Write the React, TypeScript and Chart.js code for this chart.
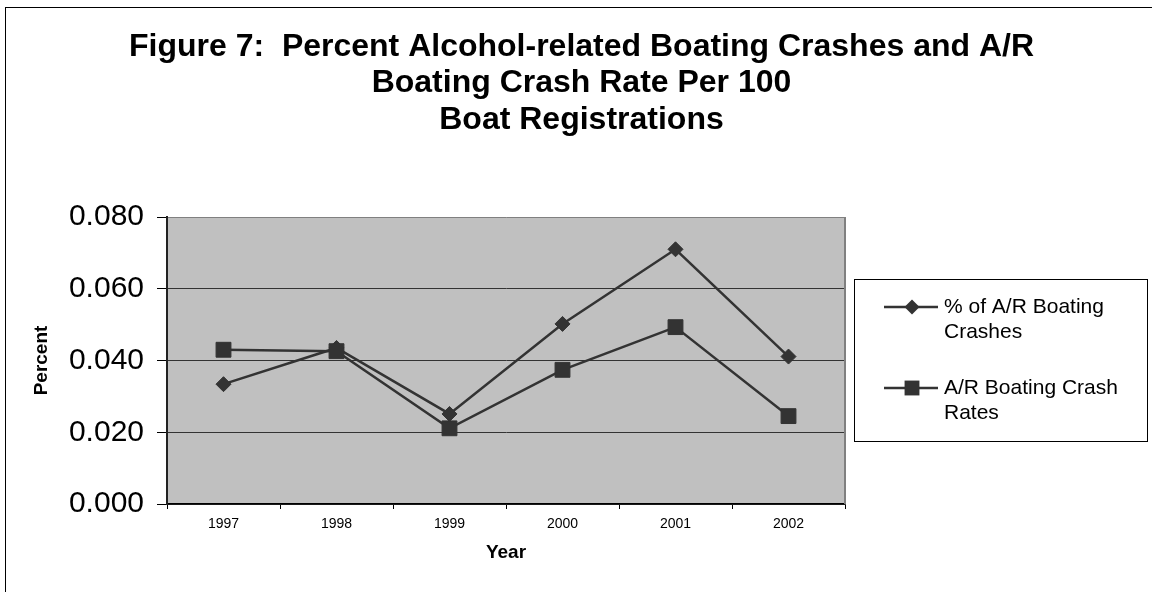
import React, { useEffect, useRef } from 'react';
import { Chart, registerables } from 'chart.js';

Chart.register(...registerables);

const FONT = '"Liberation Sans", Arial, Helvetica, sans-serif';

const categories = ['1997', '1998', '1999', '2000', '2001', '2002'];
const pctCrashes = [0.0334, 0.0435, 0.0251, 0.0502, 0.071, 0.0411];
const crashRates = [0.043, 0.0426, 0.0211, 0.0374, 0.0493, 0.0245];
const seriesLabels = [
  ['% of A/R Boating', 'Crashes'],
  ['A/R Boating Crash', 'Rates'],
];
const titleLines = [
  'Figure 7:  Percent Alcohol-related Boating Crashes and A/R',
  'Boating Crash Rate Per 100',
  'Boat Registrations',
];
const yTickValues = [0, 0.02, 0.04, 0.06, 0.08];
const xAxisTitle = 'Year';
const yAxisTitle = 'Percent';

const MARK = '#333333';

const decorPlugin = {
  id: 'decor',
  beforeDraw(chart: any) {
    const { ctx, chartArea: a } = chart;
    ctx.save();
    ctx.fillStyle = '#ffffff';
    ctx.fillRect(0, 0, chart.width, chart.height);
    ctx.strokeStyle = '#000000';
    ctx.lineWidth = 1;
    ctx.strokeRect(5.5, 7.5, 3000, 3000);
    ctx.fillStyle = '#C0C0C0';
    ctx.fillRect(a.left, a.top, a.right - a.left, a.bottom - a.top);
    ctx.fillStyle = '#000000';
    ctx.font = `bold 32px ${FONT}`;
    ctx.textAlign = 'center';
    ctx.textBaseline = 'alphabetic';
    titleLines.forEach((t, i) => ctx.fillText(t, 581.5, 55.5 + i * 36.8));
    ctx.restore();
  },
  beforeDatasetsDraw(chart: any) {
    const { ctx, chartArea: a } = chart;
    ctx.save();
    ctx.strokeStyle = '#808080';
    ctx.lineWidth = 2;
    ctx.beginPath();
    ctx.moveTo(a.right, a.top);
    ctx.lineTo(a.right, a.bottom);
    ctx.stroke();
    ctx.restore();
  },
  afterDraw(chart: any) {
    const { ctx } = chart;
    ctx.save();
    const box = { x: 854.5, y: 279.5, w: 293, h: 162 };
    ctx.fillStyle = '#ffffff';
    ctx.fillRect(box.x, box.y, box.w, box.h);
    ctx.strokeStyle = '#000000';
    ctx.lineWidth = 1;
    ctx.strokeRect(box.x, box.y, box.w, box.h);
    const itemY = [307, 388];
    chart.data.datasets.forEach((ds: any, i: number) => {
      const y = itemY[i];
      ctx.strokeStyle = ds.borderColor;
      ctx.lineWidth = ds.borderWidth;
      ctx.beginPath();
      ctx.moveTo(884, y);
      ctx.lineTo(938, y);
      ctx.stroke();
      ctx.fillStyle = ds.backgroundColor;
      const cx = 912;
      if (ds.pointStyle === 'rectRot') {
        const r = ds.pointRadius;
        ctx.beginPath();
        ctx.moveTo(cx, y - r);
        ctx.lineTo(cx + r, y);
        ctx.lineTo(cx, y + r);
        ctx.lineTo(cx - r, y);
        ctx.closePath();
        ctx.fill();
      } else {
        const s = ds.pointRadius * Math.SQRT1_2;
        ctx.fillRect(cx - s, y - s, 2 * s, 2 * s);
      }
      ctx.fillStyle = '#000000';
      ctx.font = `21px ${FONT}`;
      ctx.textAlign = 'left';
      ctx.textBaseline = 'middle';
      const lines: string[] = Array.isArray(ds.label) ? ds.label : [ds.label];
      lines.forEach((t, j) => ctx.fillText(t, 944, y + j * 25));
    });
    ctx.restore();
  },
};

export default function App() {
  const ref = useRef<HTMLCanvasElement | null>(null);

  useEffect(() => {
    if (!ref.current) return;
    const chart = new Chart(ref.current, {
      type: 'line',
      data: {
        labels: categories,
        datasets: [
          {
            label: seriesLabels[0] as any,
            data: pctCrashes,
            borderColor: MARK,
            backgroundColor: MARK,
            borderWidth: 2.5,
            pointStyle: 'rectRot',
            pointRadius: 7.5,
            pointBorderWidth: 1,
            pointBackgroundColor: MARK,
            pointBorderColor: MARK,
            tension: 0,
            order: 1,
          },
          {
            label: seriesLabels[1] as any,
            data: crashRates,
            borderColor: MARK,
            backgroundColor: MARK,
            borderWidth: 2.5,
            pointStyle: 'rect',
            pointRadius: 10.5,
            pointBorderWidth: 1,
            pointBackgroundColor: MARK,
            pointBorderColor: MARK,
            tension: 0,
            order: 0,
          },
        ],
      },
      options: {
        animation: false,
        responsive: false,
        devicePixelRatio: 1,
        layout: { padding: { left: 0, top: 217, right: 307, bottom: 18 } },
        plugins: {
          legend: { display: false },
          title: { display: false },
          tooltip: { enabled: false },
        },
        scales: {
          x: {
            type: 'category',
            offset: true,
            grid: {
              offset: true,
              drawOnChartArea: false,
              drawTicks: true,
              tickLength: 5,
              tickColor: '#000000',
            },
            border: { color: '#000000', width: 1.5 },
            ticks: {
              font: { size: 14, family: FONT },
              color: '#000000',
              padding: 7,
              maxRotation: 0,
            },
            title: {
              display: true,
              text: xAxisTitle,
              color: '#000000',
              font: { size: 19, weight: 'bold', family: FONT },
              padding: { top: 0, bottom: 9.6 },
            },
            afterFit: (s: any) => {
              s.height = 70;
            },
          },
          y: {
            type: 'linear',
            min: 0,
            max: 0.08,
            afterBuildTicks: (s: any) => {
              s.ticks = yTickValues.map((v) => ({ value: v }));
            },
            ticks: {
              callback: (v: any) => Number(v).toFixed(3),
              font: { size: 30, family: FONT },
              color: '#000000',
              padding: 13,
            },
            grid: {
              color: (c: any) => (c.tick && c.tick.value === 0.08 ? '#808080' : '#333333'),
              lineWidth: 1,
              tickLength: 10,
              tickColor: '#000000',
            },
            border: { color: '#222222', width: 2 },
            title: {
              display: true,
              text: yAxisTitle,
              color: '#000000',
              font: { size: 19, weight: 'bold', family: FONT },
              padding: { top: 30.6, bottom: 0 },
            },
            afterFit: (s: any) => {
              s.width = 167;
            },
          },
        },
      } as any,
      plugins: [decorPlugin],
    });
    return () => chart.destroy();
  }, []);

  return (
    <div
      style={{
        position: 'fixed',
        left: 0,
        top: 0,
        width: 1152,
        height: 592,
        overflow: 'hidden',
        background: '#ffffff',
      }}
    >
      <canvas ref={ref} width={1152} height={592} style={{ display: 'block', width: 1152, height: 592 }} />
    </div>
  );
}
